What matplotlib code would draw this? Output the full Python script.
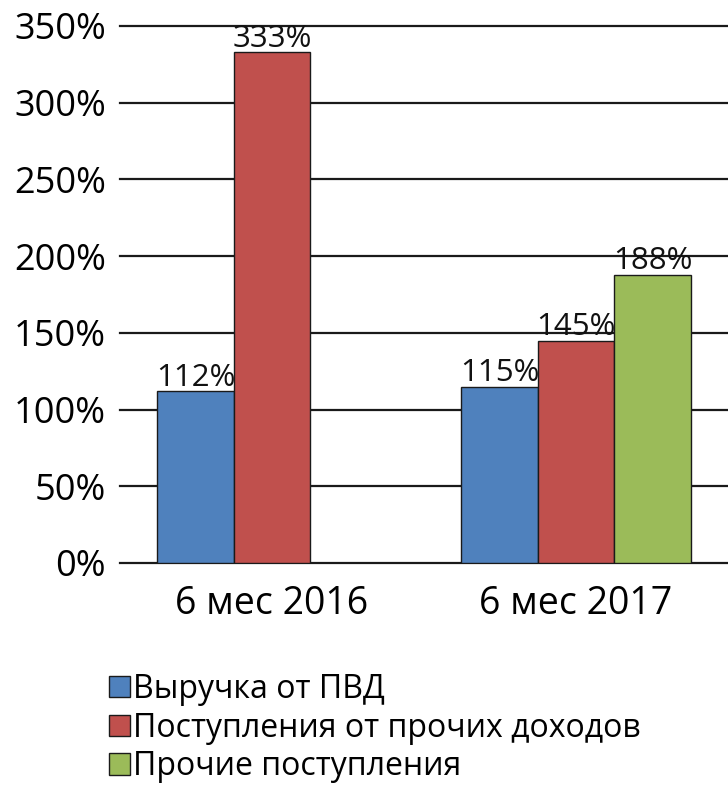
import matplotlib
matplotlib.use("Agg")
import matplotlib.pyplot as plt
from matplotlib.patches import Patch
import numpy as np

plt.rcParams['font.family'] = ['Open Sans', 'DejaVu Sans']

categories = ["6 мес 2016", "6 мес 2017"]
series_names = ["Выручка от ПВД", "Поступления от прочих доходов", "Прочие поступления"]
values_pvd = [112, 115]
values_other_income = [333, 145]
values_other = [None, 188]
colors = ["#4F81BD", "#C0504D", "#9BBB59"]
y_ticks = [0, 50, 100, 150, 200, 250, 300, 350]

fig = plt.figure(figsize=(7.28, 7.89), dpi=100)
ax = fig.add_axes([120/728, 1 - 563/789, 1 - 120/728, (563 - 26)/789])

x = np.arange(len(categories))
width = 0.252
series = [values_pvd, values_other_income, values_other]
for i, (vals, col) in enumerate(zip(series, colors)):
    offs = (i - 1) * width
    for xi, v in zip(x, vals):
        if v is None:
            continue
        ax.bar(xi + offs, v, width=width, color=col, edgecolor="#1a1a1a",
               linewidth=1.0, zorder=3)
        ax.text(xi + offs, v - 1, f"{v}%", ha="center", va="bottom",
                fontsize=22.5, color="#111111", zorder=4)

ax.set_xlim(-0.5, 1.5)
ax.set_ylim(0, 350)
ax.set_yticks(y_ticks)
ax.set_yticklabels([f"{t}%" for t in y_ticks])
for t in y_ticks:
    ax.axhline(t, color="#1a1a1a", linewidth=1.6, zorder=1, clip_on=False)
ax.set_xticks(x)
ax.set_xticklabels(categories)
for s in ax.spines.values():
    s.set_visible(False)
ax.tick_params(axis="y", length=0, pad=10, labelsize=26)
ax.tick_params(axis="x", length=0, pad=16, labelsize=27)

handles = [Patch(facecolor=c, edgecolor="#1a1a1a", linewidth=1.0) for c in colors]
fig.legend(handles, series_names, loc="upper left",
           bbox_to_anchor=(96/728, 1 - 660/789), frameon=False,
           fontsize=23, handlelength=0.65, handleheight=0.65,
           handletextpad=0.12, labelspacing=0.18, borderaxespad=0)

fig.savefig("out.png", dpi=100)
